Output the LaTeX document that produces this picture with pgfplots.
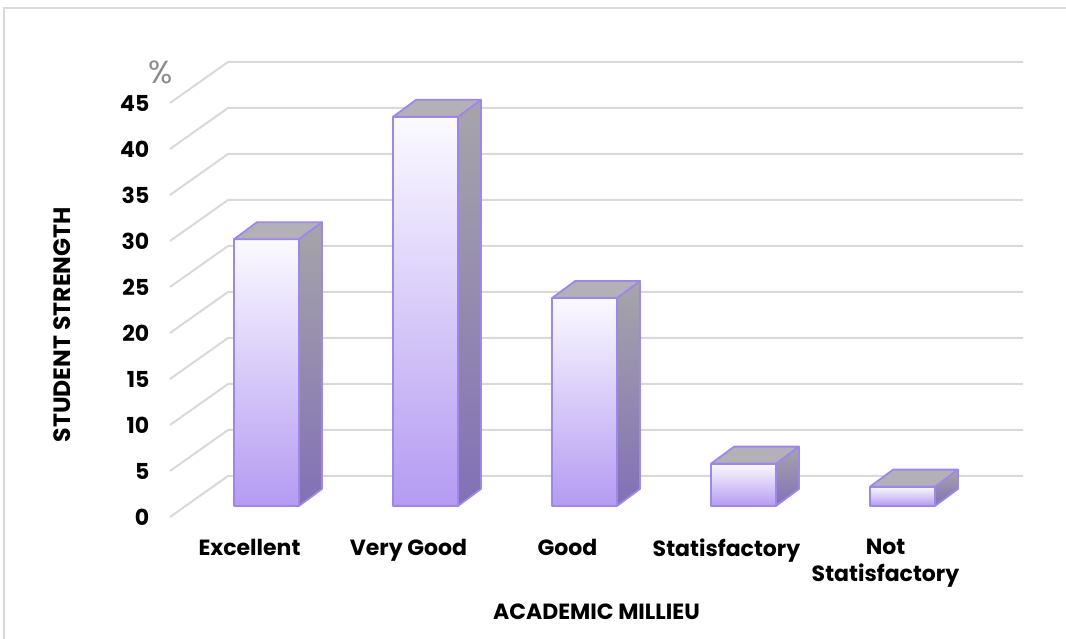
\documentclass[border=0pt]{standalone}
\usepackage{fontspec}
\setmainfont{Poppins}
\usepackage{pgfplots}
\pgfplotsset{compat=1.18}
\usepackage{pgfplotstable}
\definecolor{GridGray}{HTML}{D9D9D9}
\definecolor{FrameGray}{HTML}{D9D9D9}
\definecolor{BarEdge}{HTML}{9F87EA}
\definecolor{FrontTop}{HTML}{FBFAFF}
\definecolor{FrontMid}{HTML}{E6DCFC}
\definecolor{FrontBot}{HTML}{B49BF1}
\definecolor{SideTop}{HTML}{A6A5A9}
\definecolor{SideBot}{HTML}{8270B6}
\definecolor{TopFace}{HTML}{B3B1B7}
\definecolor{PctGray}{HTML}{8C8C8C}

% student strength (%) per academic millieu category
\pgfplotstableread{
cat v
0 29.0
1 42.3
2 22.6
3 4.6
4 2.1
}\strength

% depth of the floor / back wall (data units)
\def\floordx{0.3648}
\def\floordy{4.457}
% bar placement: front offset, base, half width, bar depth
\def\barfx{0.107}
\def\barby{1.2}
\def\barhw{0.204}
\def\bardx{0.1447}
\def\bardy{1.848}

\pgfplotsset{
  frontface/.style={draw=BarEdge,line width=0.9pt,line join=round,
    top color=FrontTop,middle color=FrontMid,bottom color=FrontBot},
  sideface/.style={draw=BarEdge,line width=0.9pt,line join=round,
    top color=SideTop,bottom color=SideBot},
  topface/.style={draw=BarEdge,line width=0.9pt,line join=round,fill=TopFace},
  wallgrid/.style={draw=GridGray,line width=1pt}}

\begin{document}
\begin{tikzpicture}
\useasboundingbox (-124.75pt,-60.5pt) rectangle (408.25pt,258.5pt);
\draw[color=FrameGray,line width=0.8pt] (-122.75pt,-80pt) -- (-122.75pt,254.5pt) -- (430pt,254.5pt);
\begin{axis}[
  at={(0pt,0pt)},anchor=origin,
  x=79.5pt,y=4.6pt,
  xmin=-0.5,xmax=4.8648,ymin=0,ymax=49.457,
  clip=false,
  axis line style={draw=none},tick style={draw=none},
  xtick={0,...,4},
  xticklabels={Excellent,Very Good,Good,Statisfactory,{Not\\Statisfactory}},
  ytick={0,5,...,45},
  /pgf/number format/assume math mode=true,
  ticklabel style={font=\bfseries\fontsize{11}{13.5}\selectfont},
  xticklabel style={align=center,yshift=-7.5pt},
  yticklabel style={xshift=-6.8pt},
  xlabel={ACADEMIC MILLIEU},
  ylabel={STUDENT STRENGTH},
  label style={font=\bfseries\fontsize{11}{13.5}\selectfont},
  xlabel style={at={(axis description cs:0.5,-0.2088)},anchor=center},
  ylabel style={at={(axis description cs:-0.1266,0.4226)},anchor=center,
    font=\bfseries\fontsize{11.8}{13.5}\selectfont},
]
% back wall and side wall grid lines
\pgfplotsinvokeforeach{0,5,...,45}{
  \pgfmathsetmacro\gxa{-0.5+\floordx}
  \pgfmathsetmacro\gxb{4.5+\floordx}
  \pgfmathsetmacro\gy{#1+\floordy}
  \edef\tmp{\noexpand\addplot[wallgrid] coordinates {(-0.5,#1) (\gxa,\gy) (\gxb,\gy)};}
  \tmp
}
% 3D bars: front, side and top faces
\pgfplotsinvokeforeach{0,...,4}{
  \pgfplotstablegetelem{#1}{v}\of\strength
  \pgfmathsetmacro\bv{\pgfplotsretval}
  \pgfmathsetmacro\xl{#1+\barfx-\barhw}
  \pgfmathsetmacro\xr{#1+\barfx+\barhw}
  \pgfmathsetmacro\xlb{\xl+\bardx}
  \pgfmathsetmacro\xrb{\xr+\bardx}
  \pgfmathsetmacro\yt{\barby+\bv}
  \pgfmathsetmacro\ytb{\yt+\bardy}
  \pgfmathsetmacro\ybb{\barby+\bardy}
  \edef\tmp{%
    \noexpand\addplot[frontface] coordinates {(\xl,\barby) (\xr,\barby) (\xr,\yt) (\xl,\yt)} -- cycle;
    \noexpand\addplot[sideface] coordinates {(\xr,\barby) (\xrb,\ybb) (\xrb,\ytb) (\xr,\yt)} -- cycle;
    \noexpand\addplot[topface] coordinates {(\xl,\yt) (\xr,\yt) (\xrb,\ytb) (\xlb,\ytb)} -- cycle;
  }
  \tmp
}
\node[font=\fontsize{16}{18}\selectfont,text=PctGray] at (axis cs:-0.56,48.3) {\%};
\end{axis}
\end{tikzpicture}
\end{document}
